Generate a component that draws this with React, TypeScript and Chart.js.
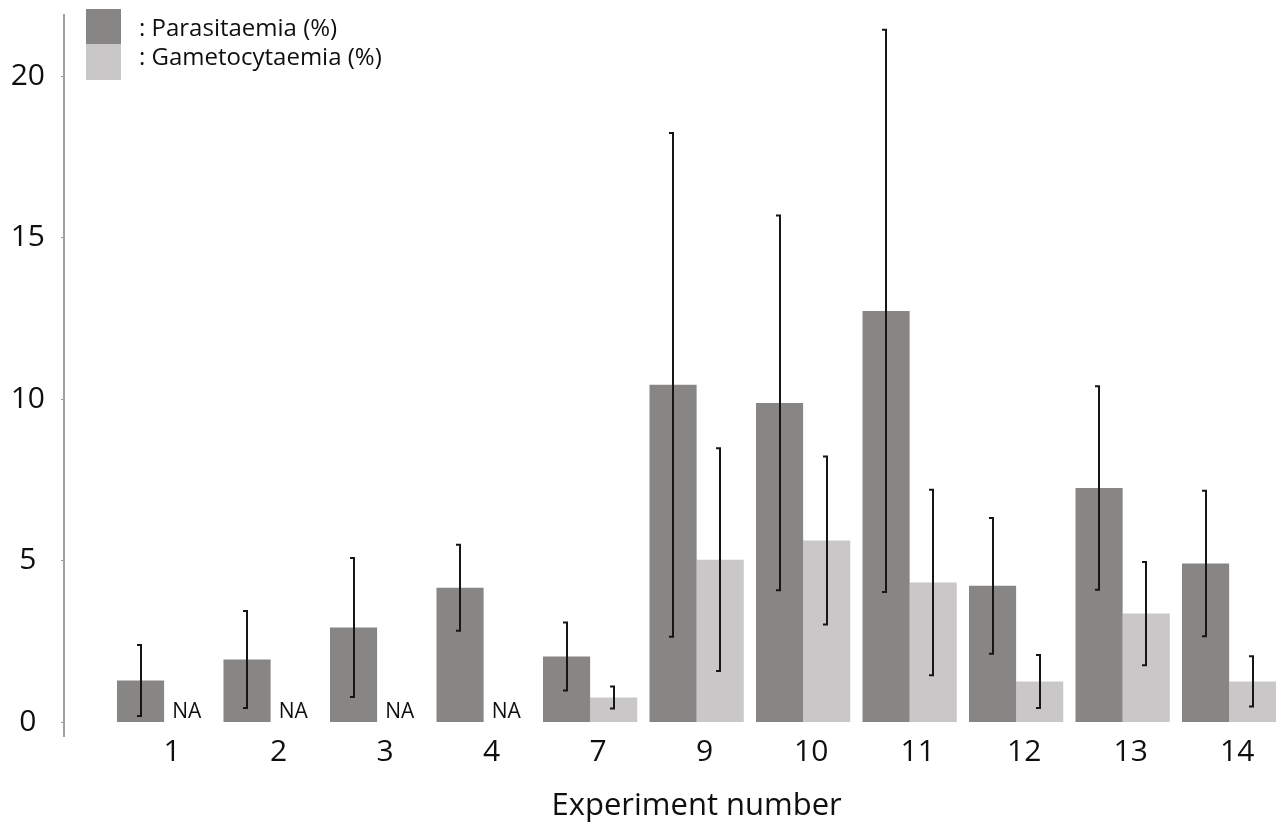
import React, { useEffect, useRef } from "react";
import { Chart, registerables } from "chart.js";

Chart.register(...registerables);

const experiments = ["1", "2", "3", "4", "7", "9", "10", "11", "12", "13", "14"];
const parasitaemia = [1.3, 1.95, 2.94, 4.17, 2.04, 10.45, 9.89, 12.74, 4.23, 7.26, 4.92];
const parasitaemiaErr = [1.1, 1.5, 2.15, 1.33, 1.05, 7.8, 5.8, 8.7, 2.1, 3.15, 2.25];
const gametocytaemia: (number | null)[] = [null, null, null, null, 0.77, 5.04, 5.63, 4.33, 1.27, 3.37, 1.27];
const gametocytaemiaErr: (number | null)[] = [null, null, null, null, 0.34, 3.45, 2.6, 2.87, 0.82, 1.6, 0.78];
const yTicks = [0, 5, 10, 15, 20];
const seriesLabels = [": Parasitaemia (%)", ": Gametocytaemia (%)"];
const xTitle = "Experiment number";
const naLabel = "NA";

const DARK = "#888585";
const LIGHT = "#c9c7c7";
const FONT = "'Open Sans', Lato, sans-serif";
const TEXT = "#0f0f0f";

const errorBarPlugin = {
  id: "errorBars",
  afterDatasetsDraw(chart: any) {
    const ctx = chart.ctx;
    const y = chart.scales.y;
    const errs = [parasitaemiaErr, gametocytaemiaErr];
    ctx.save();
    ctx.strokeStyle = "#161616";
    ctx.lineWidth = 2;
    chart.data.datasets.forEach((ds: any, di: number) => {
      const meta = chart.getDatasetMeta(di);
      ds.data.forEach((pt: any, i: number) => {
        const e = errs[di][i];
        if (pt.y == null || e == null) return;
        const el = meta.data[i];
        const x = Math.round(el.x);
        const top = y.getPixelForValue(pt.y + e);
        const bot = y.getPixelForValue(pt.y - e);
        ctx.beginPath();
        ctx.moveTo(x, top);
        ctx.lineTo(x, bot);
        ctx.moveTo(x - 4, top);
        ctx.lineTo(x + 1, top);
        ctx.moveTo(x - 4, bot);
        ctx.lineTo(x + 1, bot);
        ctx.stroke();
      });
    });
    // NA labels for missing gametocytaemia
    const darkMeta = chart.getDatasetMeta(0);
    ctx.fillStyle = TEXT;
    ctx.font = `21px ${FONT}`;
    ctx.textAlign = "center";
    ctx.textBaseline = "alphabetic";
    gametocytaemia.forEach((v, i) => {
      if (v != null) return;
      const el = darkMeta.data[i];
      const cx = el.x + el.width;
      ctx.fillText(naLabel, cx - 1, y.getPixelForValue(0) - 4);
    });
    ctx.restore();
  },
};

const legendTitlePlugin = {
  id: "legendTitle",
  afterDraw(chart: any) {
    const ctx = chart.ctx;
    const x = chart.scales.x;
    ctx.save();
    // legend swatches
    ctx.fillStyle = DARK;
    ctx.fillRect(86, 9, 35, 35);
    ctx.fillStyle = LIGHT;
    ctx.fillRect(86, 44, 35, 36);
    ctx.fillStyle = TEXT;
    ctx.font = `24px ${FONT}`;
    ctx.textAlign = "left";
    ctx.textBaseline = "alphabetic";
    ctx.fillText(seriesLabels[0], 139, 36);
    ctx.fillText(seriesLabels[1], 139, 65);
    // x-axis title centred on the experiment groups
    const cx = (x.getPixelForValue(0) + x.getPixelForValue(experiments.length - 1)) / 2;
    ctx.font = `31px ${FONT}`;
    ctx.textAlign = "center";
    ctx.fillText(xTitle, cx, 815);
    ctx.restore();
  },
};

export default function App() {
  const ref = useRef<HTMLCanvasElement | null>(null);
  useEffect(() => {
    if (!ref.current) return;
    const chart = new Chart(ref.current, {
      type: "bar",
      data: {
        datasets: [
          {
            label: seriesLabels[0],
            data: parasitaemia.map((v, i) => ({ x: i, y: v })),
            backgroundColor: DARK,
            borderWidth: 0,
            categoryPercentage: 0.885,
            barPercentage: 1,
          },
          {
            label: seriesLabels[1],
            data: gametocytaemia.map((v, i) => ({ x: i, y: v })),
            backgroundColor: LIGHT,
            borderWidth: 0,
            categoryPercentage: 0.885,
            barPercentage: 1,
          },
        ] as any,
      },
      options: {
        responsive: false,
        animation: false,
        layout: { padding: { top: 15, left: 0, right: 0, bottom: 0 } },
        plugins: { legend: { display: false }, tooltip: { enabled: false } },
        scales: {
          x: {
            type: "linear",
            offset: false,
            min: -0.94,
            max: 10.44,
            grid: { display: false, drawTicks: false, offset: false },
            border: { display: false },
            ticks: {
              stepSize: 1,
              includeBounds: false,
              padding: -2,
              labelOffset: 8,
              color: TEXT,
              font: { family: FONT, size: 30 },
              callback: (v: any) => experiments[v as number] ?? "",
            },
            afterFit: (s: any) => {
              s.height = 93;
              s.paddingLeft = 0;
              s.paddingRight = 0;
            },
          },
          y: {
            min: -0.42,
            max: 21.9,
            grid: { display: true, drawOnChartArea: false, drawTicks: true, tickLength: 3, color: "#9a9a9a" },
            border: { display: true, color: "#a0a0a0", width: 2 },
            afterBuildTicks: (s: any) => {
              s.ticks = yTicks.map((v) => ({ value: v }));
            },
            ticks: {
              crossAlign: "center",
              padding: 16,
              color: TEXT,
              font: { family: FONT, size: 30 },
            },
            afterFit: (s: any) => {
              s.width = 64;
              s.paddingTop = 0;
              s.paddingBottom = 0;
            },
          },
        },
      },
      plugins: [errorBarPlugin, legendTitlePlugin],
    } as any);
    return () => chart.destroy();
  }, []);
  return (
    <div style={{ position: "absolute", left: 0, top: 0, width: 1276, height: 829, background: "#fff" }}>
      <canvas ref={ref} width={1276} height={829} />
    </div>
  );
}
